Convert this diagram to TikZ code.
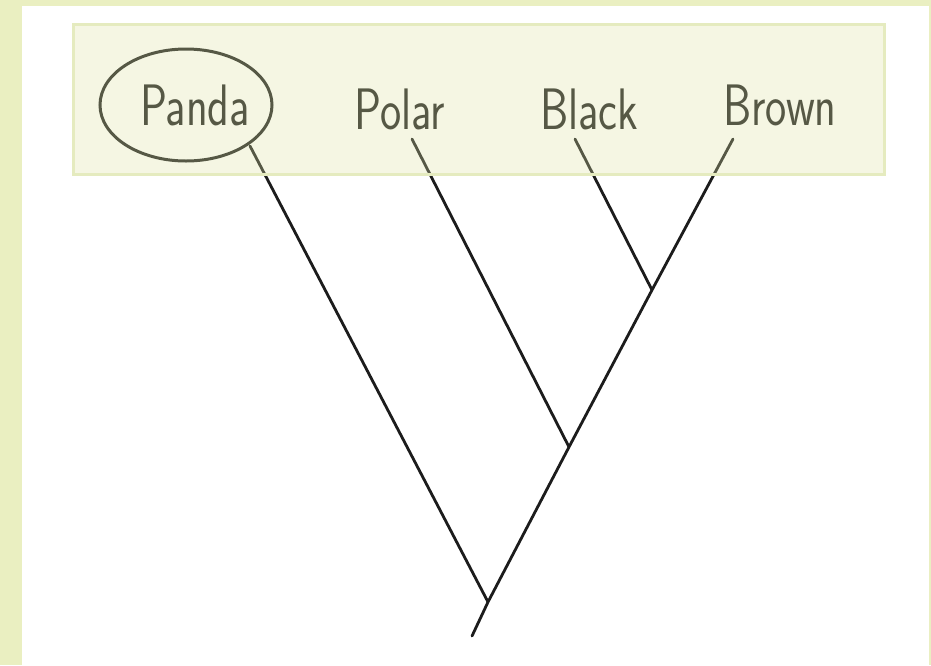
\documentclass[tikz,border=0pt]{standalone}
\usepackage{tikz}
\usepackage{graphicx}
\usetikzlibrary{shapes.geometric,positioning}
\definecolor{bgGreen}{HTML}{EAEFC1}
\definecolor{bandTint}{HTML}{DEE4A5}
\definecolor{bandLine}{HTML}{E5EBBF}
\definecolor{penBlack}{HTML}{1C1C1C}
\newcommand{\hand}[1]{\scalebox{1}[1.3]{#1}}

\begin{document}
\begin{tikzpicture}[
    x=1pt, y=-1pt,
    taxon/.style={font=\sffamily\fontsize{45}{47}\selectfont, text=penBlack,
                  anchor=base, inner sep=0pt},
    ring/.style={draw=penBlack, line width=3pt, ellipse},
    branch/.style={draw=penBlack, line width=2.8pt, line cap=round},
  ]
  % frame
  \fill[bgGreen] (0,0) rectangle (931,665);
  \fill[white] (22,6) rectangle (929,665);
  \useasboundingbox (0,0) rectangle (931,665);

  % species
  \node[taxon] (panda) at (195,125) {\hand{Panda}};
  \node[taxon] (polar) at (400,129) {\hand{Polar}};
  \node[taxon] (black) at (589,129) {\hand{Black}};
  \node[taxon] (brown) at (780,125) {\hand{Brown}};
  \node[ring, minimum width=172, minimum height=112] (pandaRing) at (186,105) {};

  % tips and forks
  \coordinate (pandaTip) at (250,146);
  \coordinate (polarTip) at (412,139);
  \coordinate (blackTip) at (575,139);
  \coordinate (brownTip) at (733,139);
  \coordinate (bearFork) at (652,290);
  \coordinate (ursusFork) at (569,447);
  \coordinate (root) at (488,602);
  \coordinate (stem) at (472,636);

  \draw[branch] (pandaTip) -- (root);
  \draw[branch] (polarTip) -- (ursusFork);
  \draw[branch] (blackTip) -- (bearFork);
  \draw[branch] (brownTip) -- (bearFork) -- (ursusFork) -- (root) -- (stem);

  % highlight band
  \fill[bandTint, fill opacity=0.3] (73,24) rectangle (884,174);
  \draw[bandLine, line width=3pt] (73,24) rectangle (884,174);
\end{tikzpicture}
\end{document}
